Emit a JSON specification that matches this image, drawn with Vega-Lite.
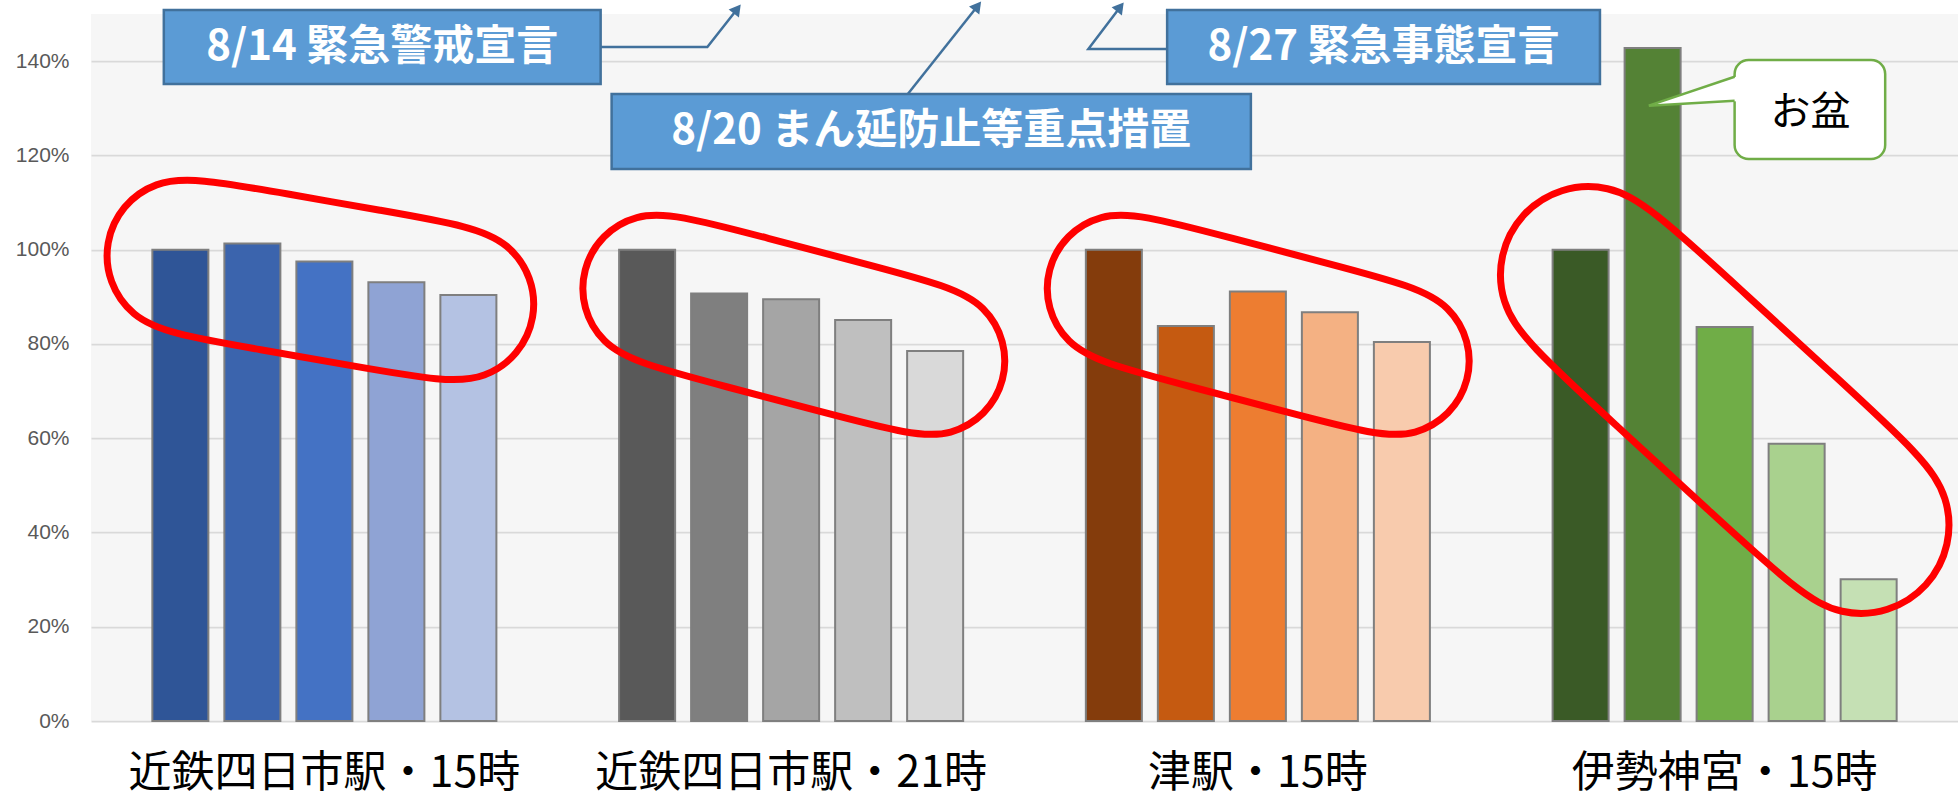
{
  "$schema": "https://vega.github.io/schema/vega-lite/v6.json",
  "width": 1867,
  "height": 707,
  "autosize": {"type": "none"},
  "padding": {"left": 91, "top": 14, "right": 0, "bottom": 76},
  "background": "#ffffff",
  "config": {
    "view": {"stroke": null, "fill": "#f6f6f6"},
    "font": "Noto Sans CJK JP"
  },
  "resolve": {"scale": {"x": "independent"}, "axis": {"x": "independent"}},
  "layer": [
    {
      "data": {"values": [
        {"place": "近鉄四日市駅・15時", "period": 1, "ratio": 1.0, "key": "A1"},
        {"place": "近鉄四日市駅・15時", "period": 2, "ratio": 1.013, "key": "A2"},
        {"place": "近鉄四日市駅・15時", "period": 3, "ratio": 0.975, "key": "A3"},
        {"place": "近鉄四日市駅・15時", "period": 4, "ratio": 0.931, "key": "A4"},
        {"place": "近鉄四日市駅・15時", "period": 5, "ratio": 0.904, "key": "A5"},
        {"place": "近鉄四日市駅・21時", "period": 1, "ratio": 1.0, "key": "B1"},
        {"place": "近鉄四日市駅・21時", "period": 2, "ratio": 0.907, "key": "B2"},
        {"place": "近鉄四日市駅・21時", "period": 3, "ratio": 0.895, "key": "B3"},
        {"place": "近鉄四日市駅・21時", "period": 4, "ratio": 0.851, "key": "B4"},
        {"place": "近鉄四日市駅・21時", "period": 5, "ratio": 0.785, "key": "B5"},
        {"place": "津駅・15時", "period": 1, "ratio": 1.0, "key": "C1"},
        {"place": "津駅・15時", "period": 2, "ratio": 0.838, "key": "C2"},
        {"place": "津駅・15時", "period": 3, "ratio": 0.911, "key": "C3"},
        {"place": "津駅・15時", "period": 4, "ratio": 0.867, "key": "C4"},
        {"place": "津駅・15時", "period": 5, "ratio": 0.804, "key": "C5"},
        {"place": "伊勢神宮・15時", "period": 1, "ratio": 1.0, "key": "D1"},
        {"place": "伊勢神宮・15時", "period": 2, "ratio": 1.428, "key": "D2"},
        {"place": "伊勢神宮・15時", "period": 3, "ratio": 0.836, "key": "D3"},
        {"place": "伊勢神宮・15時", "period": 4, "ratio": 0.588, "key": "D4"},
        {"place": "伊勢神宮・15時", "period": 5, "ratio": 0.301, "key": "D5"}
      ]},
      "mark": {"type": "bar", "stroke": "#7f7f7f", "strokeWidth": 2},
      "encoding": {
        "x": {
          "field": "place", "type": "nominal",
          "sort": ["近鉄四日市駅・15時", "近鉄四日市駅・21時", "津駅・15時", "伊勢神宮・15時"],
          "scale": {"paddingInner": 0, "paddingOuter": 0},
          "axis": {"title": null, "domain": false, "ticks": false, "grid": false, "labelAngle": 0,
                   "labelFont": "Noto Sans CJK JP", "labelFontSize": 43, "labelColor": "#000000",
                   "labelPadding": 31, "labelLimit": 0}
        },
        "xOffset": {
          "field": "period", "type": "nominal",
          "scale": {"paddingInner": 0.222, "paddingOuter": 0.852}
        },
        "y": {
          "field": "ratio", "type": "quantitative", "title": null,
          "scale": {"domain": [0, 1.5], "nice": false, "zero": true},
          "axis": {"values": [0, 0.2, 0.4, 0.6, 0.8, 1.0, 1.2, 1.4], "format": ".0%",
                   "domain": false, "ticks": false, "labelPadding": 22,
                   "labelFont": "Liberation Sans", "labelFontSize": 21, "labelColor": "#595959",
                   "gridColor": "#d9d9d9", "gridWidth": 1.75}
        },
        "color": {
          "field": "key", "type": "nominal", "legend": null,
          "scale": {
            "domain": ["A1","A2","A3","A4","A5","B1","B2","B3","B4","B5","C1","C2","C3","C4","C5","D1","D2","D3","D4","D5"],
            "range": ["#2f5597","#3b64ad","#4472c4","#8fa3d4","#b4c2e3",
                      "#595959","#7f7f7f","#a5a5a5","#bfbfbf","#d9d9d9",
                      "#843c0c","#c55a11","#ed7d31","#f4b183","#f8cbad",
                      "#3a5a26","#548235","#70ad47","#a9d18e","#c5e0b4"]
          }
        }
      }
    },
    {
      "data": {"values": [
        {"shape": "A", "i": 0, "u": 0.2248, "v": 1.1522},
        {"shape": "A", "i": 1, "u": 0.4220, "v": 1.1180},
        {"shape": "A", "i": 2, "u": 0.6191, "v": 1.0837},
        {"shape": "A", "i": 3, "u": 0.8163, "v": 1.0495},
        {"shape": "A", "i": 4, "u": 0.8955, "v": 1.0129},
        {"shape": "A", "i": 5, "u": 0.9457, "v": 0.9419},
        {"shape": "A", "i": 6, "u": 0.9534, "v": 0.8555},
        {"shape": "A", "i": 7, "u": 0.9166, "v": 0.7768},
        {"shape": "A", "i": 8, "u": 0.8451, "v": 0.7270},
        {"shape": "A", "i": 9, "u": 0.7581, "v": 0.7193},
        {"shape": "A", "i": 10, "u": 0.5609, "v": 0.7535},
        {"shape": "A", "i": 11, "u": 0.3637, "v": 0.7877},
        {"shape": "A", "i": 12, "u": 0.1666, "v": 0.8220},
        {"shape": "A", "i": 13, "u": 0.0874, "v": 0.8586},
        {"shape": "A", "i": 14, "u": 0.0372, "v": 0.9296},
        {"shape": "A", "i": 15, "u": 0.0295, "v": 1.0160},
        {"shape": "A", "i": 16, "u": 0.0663, "v": 1.0947},
        {"shape": "A", "i": 17, "u": 0.1378, "v": 1.1445},
        {"shape": "B", "i": 0, "u": 1.2530, "v": 1.0756},
        {"shape": "B", "i": 1, "u": 1.4494, "v": 1.0244},
        {"shape": "B", "i": 2, "u": 1.6458, "v": 0.9732},
        {"shape": "B", "i": 3, "u": 1.8423, "v": 0.9219},
        {"shape": "B", "i": 4, "u": 1.9163, "v": 0.8799},
        {"shape": "B", "i": 5, "u": 1.9592, "v": 0.8068},
        {"shape": "B", "i": 6, "u": 1.9596, "v": 0.7222},
        {"shape": "B", "i": 7, "u": 1.9174, "v": 0.6487},
        {"shape": "B", "i": 8, "u": 1.8437, "v": 0.6061},
        {"shape": "B", "i": 9, "u": 1.7585, "v": 0.6057},
        {"shape": "B", "i": 10, "u": 1.5621, "v": 0.6569},
        {"shape": "B", "i": 11, "u": 1.3657, "v": 0.7081},
        {"shape": "B", "i": 12, "u": 1.1692, "v": 0.7594},
        {"shape": "B", "i": 13, "u": 1.0952, "v": 0.8014},
        {"shape": "B", "i": 14, "u": 1.0523, "v": 0.8745},
        {"shape": "B", "i": 15, "u": 1.0519, "v": 0.9591},
        {"shape": "B", "i": 16, "u": 1.0941, "v": 1.0326},
        {"shape": "B", "i": 17, "u": 1.1678, "v": 1.0752},
        {"shape": "C", "i": 0, "u": 2.2480, "v": 1.0756},
        {"shape": "C", "i": 1, "u": 2.4444, "v": 1.0244},
        {"shape": "C", "i": 2, "u": 2.6408, "v": 0.9732},
        {"shape": "C", "i": 3, "u": 2.8373, "v": 0.9219},
        {"shape": "C", "i": 4, "u": 2.9113, "v": 0.8799},
        {"shape": "C", "i": 5, "u": 2.9542, "v": 0.8068},
        {"shape": "C", "i": 6, "u": 2.9546, "v": 0.7222},
        {"shape": "C", "i": 7, "u": 2.9124, "v": 0.6487},
        {"shape": "C", "i": 8, "u": 2.8387, "v": 0.6061},
        {"shape": "C", "i": 9, "u": 2.7535, "v": 0.6057},
        {"shape": "C", "i": 10, "u": 2.5571, "v": 0.6569},
        {"shape": "C", "i": 11, "u": 2.3607, "v": 0.7081},
        {"shape": "C", "i": 12, "u": 2.1642, "v": 0.7594},
        {"shape": "C", "i": 13, "u": 2.0902, "v": 0.8014},
        {"shape": "C", "i": 14, "u": 2.0473, "v": 0.8745},
        {"shape": "C", "i": 15, "u": 2.0469, "v": 0.9591},
        {"shape": "C", "i": 16, "u": 2.0891, "v": 1.0326},
        {"shape": "C", "i": 17, "u": 2.1628, "v": 1.0752},
        {"shape": "D", "i": 0, "u": 3.3412, "v": 1.0910},
        {"shape": "D", "i": 1, "u": 3.5359, "v": 0.9139},
        {"shape": "D", "i": 2, "u": 3.7306, "v": 0.7368},
        {"shape": "D", "i": 3, "u": 3.9254, "v": 0.5597},
        {"shape": "D", "i": 4, "u": 3.9803, "v": 0.4743},
        {"shape": "D", "i": 5, "u": 3.9847, "v": 0.3730},
        {"shape": "D", "i": 6, "u": 3.9376, "v": 0.2832},
        {"shape": "D", "i": 7, "u": 3.8516, "v": 0.2287},
        {"shape": "D", "i": 8, "u": 3.7496, "v": 0.2243},
        {"shape": "D", "i": 9, "u": 3.6592, "v": 0.2711},
        {"shape": "D", "i": 10, "u": 3.4645, "v": 0.4482},
        {"shape": "D", "i": 11, "u": 3.2698, "v": 0.6253},
        {"shape": "D", "i": 12, "u": 3.0750, "v": 0.8024},
        {"shape": "D", "i": 13, "u": 3.0201, "v": 0.8878},
        {"shape": "D", "i": 14, "u": 3.0157, "v": 0.9891},
        {"shape": "D", "i": 15, "u": 3.0628, "v": 1.0789},
        {"shape": "D", "i": 16, "u": 3.1488, "v": 1.1334},
        {"shape": "D", "i": 17, "u": 3.2508, "v": 1.1378}
      ]},
      "mark": {"type": "line", "interpolate": "basis-closed", "stroke": "#ff0000", "strokeWidth": 7, "clip": false},
      "encoding": {
        "x": {"field": "u", "type": "quantitative", "scale": {"domain": [0, 4], "nice": false, "zero": false}, "axis": null},
        "y": {"field": "v", "type": "quantitative", "title": null, "scale": {"domain": [0, 1.5], "nice": false}},
        "detail": {"field": "shape", "type": "nominal"},
        "order": {"field": "i", "type": "quantitative"}
      }
    },
    {
      "data": {"values": [
        {"arrow": "a1", "i": 0, "u": 1.0919, "v": 1.4301},
        {"arrow": "a1", "i": 1, "u": 1.3205, "v": 1.4301},
        {"arrow": "a1", "i": 2, "u": 1.3846, "v": 1.5107},
        {"arrow": "a2", "i": 0, "u": 1.7500, "v": 1.3304},
        {"arrow": "a2", "i": 1, "u": 1.8996, "v": 1.5171},
        {"arrow": "a3", "i": 0, "u": 2.3056, "v": 1.4258},
        {"arrow": "a3", "i": 1, "u": 2.1368, "v": 1.4258},
        {"arrow": "a3", "i": 2, "u": 2.2051, "v": 1.5150}
      ]},
      "mark": {"type": "line", "stroke": "#41719c", "strokeWidth": 2.5, "clip": false},
      "encoding": {
        "x": {"field": "u", "type": "quantitative", "scale": {"domain": [0, 4], "nice": false, "zero": false}, "axis": null},
        "y": {"field": "v", "type": "quantitative", "title": null, "scale": {"domain": [0, 1.5], "nice": false}},
        "detail": {"field": "arrow", "type": "nominal"},
        "order": {"field": "i", "type": "quantitative"}
      }
    },
    {
      "data": {"values": [
        {"u": 1.3846, "v": 1.5107},
        {"u": 1.8996, "v": 1.5171},
        {"u": 2.2051, "v": 1.5150}
      ]},
      "mark": {"type": "point", "shape": "triangle-up", "filled": true, "color": "#41719c", "opacity": 1, "size": 170, "angle": 38, "clip": false},
      "encoding": {
        "x": {"field": "u", "type": "quantitative", "scale": {"domain": [0, 4], "nice": false, "zero": false}, "axis": null},
        "y": {"field": "v", "type": "quantitative", "title": null, "scale": {"domain": [0, 1.5], "nice": false}}
      }
    },
    {
      "data": {"values": [
        {"u": 0.1560, "u2": 1.0919, "v": 1.3516, "v2": 1.5086},
        {"u": 1.1154, "u2": 2.4850, "v": 1.1712, "v2": 1.3304},
        {"u": 2.3056, "u2": 3.2329, "v": 1.3516, "v2": 1.5086}
      ]},
      "mark": {"type": "rect", "fill": "#5b9bd5", "stroke": "#41719c", "strokeWidth": 2.5, "clip": false},
      "encoding": {
        "x": {"field": "u", "type": "quantitative", "scale": {"domain": [0, 4], "nice": false, "zero": false}, "axis": null},
        "x2": {"field": "u2"},
        "y": {"field": "v", "type": "quantitative", "title": null, "scale": {"domain": [0, 1.5], "nice": false}},
        "y2": {"field": "v2"}
      }
    },
    {
      "data": {"values": [
        {"u": 0.6239, "v": 1.4301, "label": "8/14 緊急警戒宣言"},
        {"u": 1.8002, "v": 1.2508, "label": "8/20 まん延防止等重点措置"},
        {"u": 2.7692, "v": 1.4301, "label": "8/27 緊急事態宣言"}
      ]},
      "mark": {"type": "text", "font": "Noto Sans CJK JP", "fontSize": 42, "fontWeight": "bold", "color": "#ffffff", "align": "center", "baseline": "middle", "clip": false},
      "encoding": {
        "x": {"field": "u", "type": "quantitative", "scale": {"domain": [0, 4], "nice": false, "zero": false}, "axis": null},
        "y": {"field": "v", "type": "quantitative", "title": null, "scale": {"domain": [0, 1.5], "nice": false}},
        "text": {"field": "label"}
      }
    },
    {
      "data": {"values": [
        {"u": 3.5214, "u2": 3.8440, "v": 1.1924, "v2": 1.4025}
      ]},
      "mark": {"type": "rect", "fill": "#ffffff", "stroke": "#70ad47", "strokeWidth": 2.5, "cornerRadius": 14},
      "encoding": {
        "x": {"field": "u", "type": "quantitative", "scale": {"domain": [0, 4], "nice": false, "zero": false}, "axis": null},
        "x2": {"field": "u2"},
        "y": {"field": "v", "type": "quantitative", "title": null, "scale": {"domain": [0, 1.5], "nice": false}},
        "y2": {"field": "v2"}
      }
    },
    {
      "data": {"values": [
        {"u": 3.3376, "v": 1.3055, "v2": 1.3055},
        {"u": 3.5278, "v": 1.3680, "v2": 1.3150}
      ]},
      "mark": {"type": "area", "fill": "#ffffff", "opacity": 1},
      "encoding": {
        "x": {"field": "u", "type": "quantitative", "scale": {"domain": [0, 4], "nice": false, "zero": false}, "axis": null},
        "y": {"field": "v", "type": "quantitative", "title": null, "scale": {"domain": [0, 1.5], "nice": false}},
        "y2": {"field": "v2"}
      }
    },
    {
      "data": {"values": [
        {"edge": "top", "i": 0, "u": 3.3376, "v": 1.3055},
        {"edge": "top", "i": 1, "u": 3.5214, "v": 1.3669},
        {"edge": "bottom", "i": 0, "u": 3.3376, "v": 1.3055},
        {"edge": "bottom", "i": 1, "u": 3.5214, "v": 1.3158}
      ]},
      "mark": {"type": "line", "stroke": "#70ad47", "strokeWidth": 2.5},
      "encoding": {
        "x": {"field": "u", "type": "quantitative", "scale": {"domain": [0, 4], "nice": false, "zero": false}, "axis": null},
        "y": {"field": "v", "type": "quantitative", "title": null, "scale": {"domain": [0, 1.5], "nice": false}},
        "detail": {"field": "edge", "type": "nominal"},
        "order": {"field": "i", "type": "quantitative"}
      }
    },
    {
      "data": {"values": [
        {"u": 3.6838, "v": 1.2900, "label": "お盆"}
      ]},
      "mark": {"type": "text", "font": "Noto Sans CJK JP", "fontSize": 40, "color": "#000000", "align": "center", "baseline": "middle"},
      "encoding": {
        "x": {"field": "u", "type": "quantitative", "scale": {"domain": [0, 4], "nice": false, "zero": false}, "axis": null},
        "y": {"field": "v", "type": "quantitative", "title": null, "scale": {"domain": [0, 1.5], "nice": false}},
        "text": {"field": "label"}
      }
    }
  ]
}
